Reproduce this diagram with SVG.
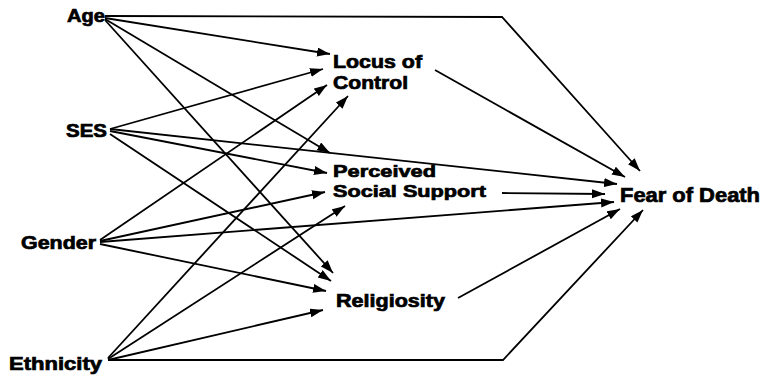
<svg xmlns="http://www.w3.org/2000/svg" width="766" height="377" viewBox="0 0 766 377">
<style>
text{font-family:"Liberation Sans",Arial,sans-serif;font-weight:bold;font-size:18px;fill:#000;stroke:#000;stroke-width:0.7}
.m{font-size:17px}
.big{font-size:20px}
.c line,.c polyline{stroke:#000;stroke-width:1.8;fill:none;marker-end:url(#ah)}
</style>
<defs>
<marker id="ah" markerUnits="userSpaceOnUse" markerWidth="14" markerHeight="10" refX="13" refY="4.5" orient="auto">
<path d="M0,0 L13,4.5 L0,9 z" fill="#000"/>
</marker>
</defs>
<g class="c" id="connectors">
<polyline points="105,16 502,17 640,171"/>
<line x1="105" y1="18" x2="330" y2="54"/>
<line x1="105" y1="19" x2="330" y2="153"/>
<line x1="105" y1="20" x2="333" y2="273"/>
<line x1="110" y1="129" x2="323" y2="69"/>
<line x1="110" y1="129" x2="617" y2="184"/>
<line x1="110" y1="131" x2="327" y2="173"/>
<line x1="110" y1="134" x2="331" y2="281"/>
<line x1="100" y1="240" x2="327" y2="85"/>
<line x1="100" y1="241" x2="325" y2="192"/>
<line x1="100" y1="242" x2="614" y2="202"/>
<line x1="100" y1="244" x2="326" y2="291"/>
<line x1="108" y1="358" x2="348" y2="96"/>
<line x1="108" y1="359" x2="345" y2="206"/>
<line x1="108" y1="360" x2="323" y2="310"/>
<polyline points="108,360 503,360 643,210"/>
<line x1="435" y1="70" x2="625" y2="177"/>
<line x1="502" y1="193" x2="605" y2="194"/>
<line x1="458" y1="298" x2="620" y2="209"/>
</g>
<g id="age"><text x="67" y="22" textLength="38" lengthAdjust="spacingAndGlyphs">Age</text></g>
<g id="ses"><text x="66" y="137" textLength="41" lengthAdjust="spacingAndGlyphs">SES</text></g>
<g id="gender"><text x="21" y="249" textLength="75" lengthAdjust="spacingAndGlyphs">Gender</text></g>
<g id="ethnicity"><text x="9" y="370" textLength="93" lengthAdjust="spacingAndGlyphs">Ethnicity</text></g>
<g id="locus"><text x="333" y="68" textLength="89" lengthAdjust="spacingAndGlyphs">Locus of</text><text x="333" y="89" textLength="75" lengthAdjust="spacingAndGlyphs">Control</text></g>
<g id="support"><text class="m" x="333" y="177" textLength="103" lengthAdjust="spacingAndGlyphs">Perceived</text><text class="m" x="333" y="197" textLength="153" lengthAdjust="spacingAndGlyphs">Social Support</text></g>
<g id="religiosity"><text x="336" y="307" textLength="109" lengthAdjust="spacingAndGlyphs">Religiosity</text></g>
<g id="fear"><text class="big" x="620" y="202" textLength="140" lengthAdjust="spacingAndGlyphs">Fear of Death</text></g>
</svg>
